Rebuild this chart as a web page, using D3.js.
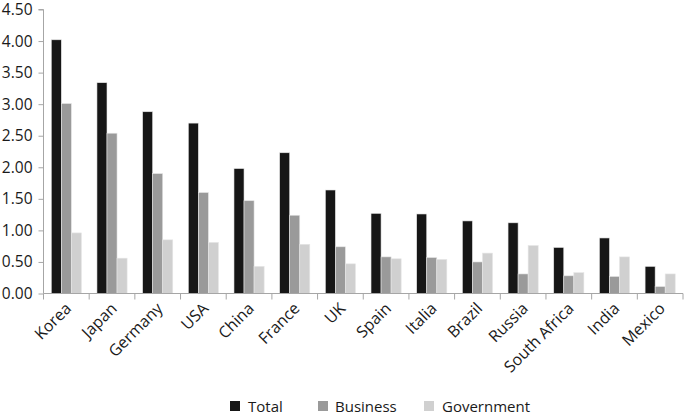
<!DOCTYPE html>
<html>
<head>
<meta charset="utf-8">
<script src="https://cdn.jsdelivr.net/npm/d3@7"></script>
<style>
  html, body { margin: 0; padding: 0; background: #fff; }
  svg { display: block; }
  text { font-family: "Open Sans", "Liberation Sans", sans-serif; fill: #1a1a1a; }
</style>
</head>
<body>
<svg id="chart" width="685" height="417"></svg>
<script>
const categories = ["Korea", "Japan", "Germany", "USA", "China", "France", "UK", "Spain", "Italia", "Brazil", "Russia", "South Africa", "India", "Mexico"];
const seriesNames = ["Total", "Business", "Government"];
const total      = [4.02, 3.34, 2.88, 2.70, 1.98, 2.23, 1.64, 1.27, 1.26, 1.15, 1.12, 0.73, 0.88, 0.43];
const business   = [3.01, 2.54, 1.90, 1.60, 1.47, 1.24, 0.74, 0.58, 0.57, 0.50, 0.31, 0.28, 0.27, 0.11];
const government = [0.96, 0.56, 0.85, 0.81, 0.43, 0.78, 0.47, 0.55, 0.54, 0.64, 0.76, 0.33, 0.58, 0.31];
const yTicks = [0, 0.5, 1, 1.5, 2, 2.5, 3, 3.5, 4, 4.5];
const colors = ["#161616", "#9a9a9a", "#d0d0d0"];

const series = [total, business, government];
const svg = d3.select("#chart");
const pLeft = 43.5, pRight = 683, pTop = 9.5, pBottom = 293.5;
const axisColor = "#a6a6a6";

const x = d3.scaleBand().domain(categories).range([pLeft, pRight]).paddingInner(0).paddingOuter(0);
const groupPad = 0.17;
const x1 = d3.scaleBand().domain(seriesNames)
  .range([x.bandwidth() * groupPad, x.bandwidth() * (1 - groupPad)]);
const y = d3.scaleLinear().domain([0, 4.5]).range([pBottom, pTop]);

// bars
const g = svg.append("g");
categories.forEach((c, i) => {
  seriesNames.forEach((s, j) => {
    const v = series[j][i];
    g.append("rect")
      .attr("x", x(c) + x1(s))
      .attr("y", y(v))
      .attr("width", x1.bandwidth())
      .attr("height", y(0) - y(v))
      .attr("fill", colors[j])
      .attr("stroke", "#e6e6e6")
      .attr("stroke-width", 0.6);
  });
});

// y axis
const yAxis = d3.axisLeft(y).tickValues(yTicks).tickFormat(d3.format(".2f")).tickSize(5).tickPadding(6);
const ya = svg.append("g").attr("transform", `translate(${pLeft},0)`).call(yAxis);
ya.select(".domain").attr("stroke", axisColor).attr("d", `M-5,${pTop}H0V${pBottom}`);
ya.selectAll(".tick line").attr("stroke", axisColor);
ya.selectAll(".tick text").style("font-size", "15.5px").attr("fill", "#1a1a1a");

// x axis
const xa = svg.append("g").attr("transform", `translate(0,${pBottom})`);
xa.append("line").attr("x1", pLeft).attr("x2", pRight).attr("y1", 0).attr("y2", 0).attr("stroke", axisColor);
const xTickPos = categories.map(c => x(c)).concat([pRight]);
xa.selectAll("line.t").data(xTickPos).enter().append("line").attr("class", "t")
  .attr("x1", d => d).attr("x2", d => d).attr("y1", 0).attr("y2", 6).attr("stroke", axisColor);
xa.selectAll("text.lbl").data(categories).enter().append("text").attr("class", "lbl")
  .attr("transform", d => `translate(${x(d) + x.bandwidth() / 2 + 6},${16}) rotate(-45)`)
  .attr("text-anchor", "end")
  .style("font-size", "16px")
  .text(d => d);

// legend
const legendItems = [
  { name: "Total", sx: 230, tx: 248 },
  { name: "Business", sx: 318, tx: 335 },
  { name: "Government", sx: 424, tx: 442 }
];
const lg = svg.append("g");
legendItems.forEach((it, j) => {
  lg.append("rect").attr("x", it.sx).attr("y", 401).attr("width", 10).attr("height", 10).attr("fill", colors[j]);
  lg.append("text").attr("x", it.tx).attr("y", 411.5).style("font-size", "15px").text(it.name);
});
</script>
</body>
</html>
